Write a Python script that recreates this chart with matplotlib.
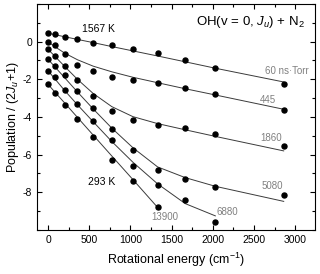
import matplotlib
matplotlib.use("Agg")
import matplotlib.pyplot as plt
from matplotlib.ticker import MultipleLocator

plt.rcParams['font.family'] = ['Liberation Sans', 'DejaVu Sans']
plt.rcParams['mathtext.fontset'] = 'custom'
plt.rcParams['mathtext.rm'] = 'Liberation Sans'
plt.rcParams['mathtext.it'] = 'Liberation Sans:italic'
plt.rcParams['axes.unicode_minus'] = False

# ---- data ----
energy = [0, 83, 202, 356, 547, 773, 1029, 1329, 1665, 2030, 2860]

labels = ['60 ns·Torr', '445', '1860', '5080', '6880', '13900']

pts_60 = [0.45, 0.39, 0.27, 0.14, -0.05, -0.18, -0.41, -0.62, -0.99, -1.40, -2.24]
pts_445 = [0.0, -0.18, -0.64, -1.26, -1.58, -1.87, -2.04, -2.19, -2.45, -2.77, -3.61]
pts_1860 = [-0.41, -0.76, -1.3, -2.04, -2.9, -3.69, -4.18, -4.44, -4.58, -4.92, -5.55]
pts_5080 = [-0.94, -1.28, -1.78, -2.6, -3.5, -4.64, -5.74, -6.8, -7.27, -7.7, -8.14]
pts_6880 = [-1.55, -1.9, -2.55, -3.29, -4.23, -5.24, -6.58, -7.59, -8.42, -9.6]
pts_13900 = [-2.27, -2.72, -3.34, -4.09, -5.07, -6.26, -7.41, -8.76]

fit_60 = [0.45, 0.37, 0.26, 0.12, -0.05, -0.26, -0.49, -0.76, -1.07, -1.41, -2.14]
fit_445 = [0.0, -0.27, -0.61, -0.96, -1.30, -1.60, -1.89, -2.18, -2.50, -2.83, -3.59]
fit_1860 = [-0.41, -0.78, -1.32, -2.0, -2.75, -3.45, -3.98, -4.35, -4.68, -5.03, -5.80]
fit_5080 = [-0.94, -1.34, -1.92, -2.67, -3.57, -4.59, -5.63, -6.65, -7.22, -7.68, -8.48]
fit_6880 = [-1.55, -1.98, -2.6, -3.35, -4.25, -5.3, -6.4, -7.55, -8.6, -9.25]
fit_13900 = [-2.27, -2.68, -3.26, -4.02, -4.96, -6.07, -7.32, -8.8]

points = [pts_60, pts_445, pts_1860, pts_5080, pts_6880, pts_13900]
fits = [fit_60, fit_445, fit_1860, fit_5080, fit_6880, fit_13900]

# label positions (energy, population)
label_xy = [(3170, -1.55), (2673, -3.11), (2704, -5.1), (2716, -7.64), (2180, -9.07), (1420, -9.3)]
label_ha = ['right', 'center', 'center', 'center', 'center', 'center']

# ---- plot ----
fig = plt.figure(figsize=(3.2, 2.74), dpi=100)
ax = fig.add_axes([0.1156, 0.1606, 0.8688, 0.8248])

for pts, fit in zip(points, fits):
    ax.plot(energy[:len(fit)], fit, color='#3a3a3a', lw=0.7)
    ax.plot(energy[:len(pts)], pts, 'o', color='black', ms=3.6, mec='black')

for lab, (lx, ly), ha in zip(labels, label_xy, label_ha):
    ax.text(lx, ly, lab, color='#808080', fontsize=7, ha=ha, va='center')

ax.text(610, 0.66, '1567 K', fontsize=7.5, ha='center', va='center')
ax.text(655, -7.47, '293 K', fontsize=7.5, ha='center', va='center')
ax.text(3110, 1.07, r'OH(v = 0, $J_u$) + N$_2$', fontsize=9.5, ha='right', va='center')

ax.set_xlim(-135, 3240)
ax.set_ylim(-10, 2)
ax.xaxis.set_major_locator(MultipleLocator(500))
ax.xaxis.set_minor_locator(MultipleLocator(250))
ax.yaxis.set_major_locator(MultipleLocator(2))
ax.yaxis.set_minor_locator(MultipleLocator(1))
ax.tick_params(which='both', direction='in', top=True, right=True, labelsize=7.5, width=0.8)
ax.tick_params(which='major', length=3.5)
ax.tick_params(which='minor', length=2)
ax.set_yticks([-8, -6, -4, -2, 0])
for s in ax.spines.values():
    s.set_linewidth(0.8)

ax.set_xlabel('Rotational energy (cm$^{-1}$)', fontsize=9, labelpad=4)
ax.set_ylabel('Population / (2$J_u$+1)', fontsize=9, labelpad=1)

fig.savefig('out.png', dpi=100)
